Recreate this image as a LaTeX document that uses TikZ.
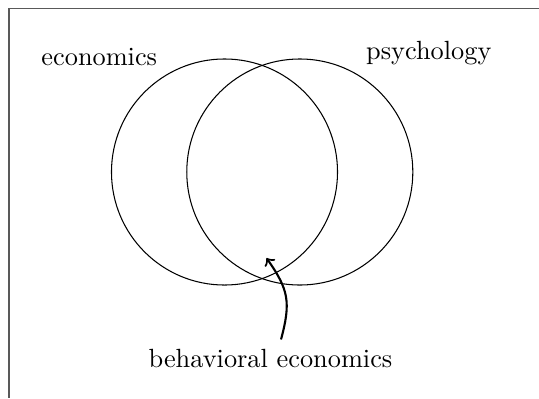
\documentclass[tikz,border=0pt]{standalone}
\usetikzlibrary{arrows}
\begin{document}
\begin{tikzpicture}[x=0.38pt,y=-0.38pt,
  setcircle/.style={circle,draw,line width=0.4pt,minimum size=85.9pt,inner sep=0pt},
  lbl/.style={anchor=base,inner sep=3.33pt},
  framestyle/.style={draw=black!65,line width=0.5pt}]
\useasboundingbox (0,0) rectangle (539,398);
% frame (cropped)
\coordinate (ftl) at (9,8.5);
\coordinate (ftr) at (539,8.5);
\coordinate (fbl) at (9,398);
\draw[framestyle] (ftr) -- (ftl) -- (fbl);
% circles
\node[setcircle] (econ) at (224.5,172) {};
\node[setcircle] (psych) at (299.8,172) {};
% labels
\node[lbl] (econlbl) at (99.3,65) {economics};
\node[lbl] (psychlbl) at (428.8,59.3) {psychology};
\node[lbl] (be) at (270.5,367) {behavioral economics};
% arrow
\coordinate (tip) at (266.5,258);
\draw[->,thick] ([xshift=4pt]be.north) to[out=75,in=-55,looseness=1.2] (tip);
\end{tikzpicture}
\end{document}
